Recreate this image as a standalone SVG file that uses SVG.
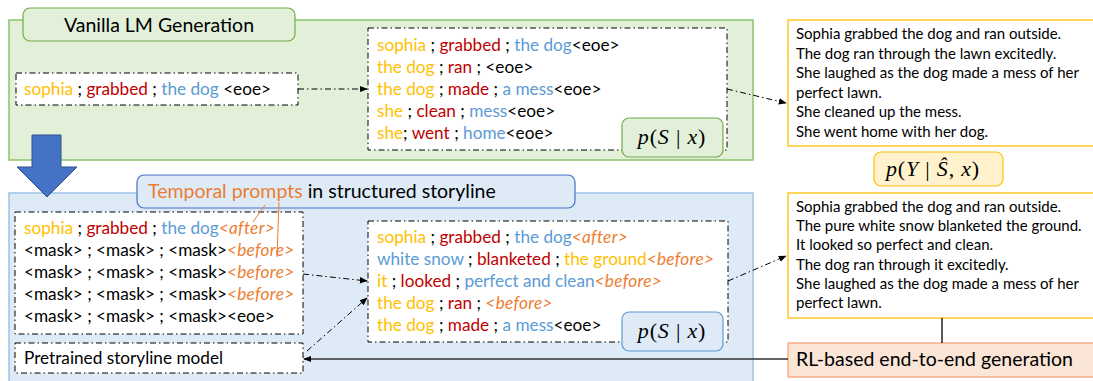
<svg xmlns="http://www.w3.org/2000/svg" width="1093" height="381" viewBox="0 0 1093 381">
<defs>
<style>
.t{font-family:Lato,"Liberation Sans",sans-serif;fill:#000}
.s16{font-size:17.2px}
.s14{font-size:15px}
.Y{fill:#FFC000}.R{fill:#C00000}.B{fill:#5B9BD5}.O{fill:#ED7D31}.I{font-style:italic;letter-spacing:0.3px}
.dd{fill:#fff;stroke:#000;stroke-width:1;stroke-dasharray:6 3 1.5 3}
.m{font-family:"Liberation Serif",serif;font-size:22px;fill:#000;letter-spacing:0.8px}
.con{fill:none;stroke:#000;stroke-width:1;stroke-dasharray:6 3 1.5 3}
</style>
<marker id="ah" viewBox="0 0 10 10" refX="9" refY="5" markerWidth="8" markerHeight="8" markerUnits="userSpaceOnUse" orient="auto">
<path d="M0,1 L10,5 L0,9 z" fill="#000"/>
</marker>
</defs>

<g id="vanilla-panel">
<rect x="9" y="20" width="744" height="140" fill="#E2F0D9" stroke="#8CC46C" stroke-width="1.5"/>
<rect x="23" y="8" width="272" height="33" rx="7" fill="#E2F0D9" stroke="#70AD47" stroke-width="1.2"/>
<text class="t" x="159" y="31.5" font-size="19.5" text-anchor="middle">Vanilla LM Generation</text>
</g>

<g id="structured-panel">
<rect x="9" y="193" width="744" height="200" fill="#DEEBF7" stroke="#9DC3E6" stroke-width="1.5"/>
<rect x="137" y="175" width="438" height="33" rx="7" fill="#DEEBF7" stroke="#4472C4" stroke-width="1.2"/>
<text class="t" x="148" y="198" font-size="19.5"><tspan class="O">Temporal prompts</tspan> in structured storyline</text>
</g>

<g id="input-vanilla">
<rect class="dd" x="16" y="73" width="282" height="32"/>
<text class="t s16" x="24" y="95"><tspan class="Y">sophia</tspan> ; <tspan class="R">grabbed</tspan> ; <tspan class="B">the dog</tspan> &lt;eoe&gt;</text>
</g>

<g id="storyline-vanilla">
<rect class="dd" x="368" y="28" width="359" height="122"/>
<text class="t s16" x="377" y="51"><tspan class="Y">sophia</tspan> ; <tspan class="R">grabbed</tspan> ; <tspan class="B">the dog</tspan>&lt;eoe&gt;</text>
<text class="t s16" x="377" y="73"><tspan class="Y">the dog</tspan> ; <tspan class="R">ran</tspan> ; &lt;eoe&gt;</text>
<text class="t s16" x="377" y="95"><tspan class="Y">the dog</tspan> ; <tspan class="R">made</tspan> ; <tspan class="B">a mess</tspan>&lt;eoe&gt;</text>
<text class="t s16" x="377" y="117"><tspan class="Y">she</tspan> ; <tspan class="R">clean</tspan> ; <tspan class="B">mess</tspan>&lt;eoe&gt;</text>
<text class="t s16" x="377" y="139"><tspan class="Y">she</tspan>; <tspan class="R">went</tspan> ; <tspan class="B">home</tspan>&lt;eoe&gt;</text>
</g>

<g id="ps-vanilla">
<rect x="622" y="118" width="101" height="39" rx="7" fill="#E2F0D9" stroke="#70AD47" stroke-width="1.2"/>
<text class="m" x="672" y="144" text-anchor="middle"><tspan font-style="italic">p</tspan>(<tspan font-style="italic">S</tspan> | <tspan font-style="italic">x</tspan>)</text>
</g>

<g id="story-vanilla">
<rect x="788" y="20" width="320" height="126" fill="#fff" stroke="#FFC000" stroke-width="1.3"/>
<text class="t s14" x="796" y="39">Sophia grabbed the dog and ran outside.</text>
<text class="t s14" x="796" y="58.5">The dog ran through the lawn excitedly.</text>
<text class="t s14" x="796" y="78">She laughed as the dog made a mess of her</text>
<text class="t s14" x="796" y="97.5">perfect lawn.</text>
<text class="t s14" x="796" y="117">She cleaned up the mess.</text>
<text class="t s14" x="796" y="136.5">She went home with her dog.</text>
</g>

<g id="py">
<rect x="874" y="152" width="129" height="34" rx="7" fill="#FFF2CC" stroke="#FFC000" stroke-width="1.2"/>
<text class="m" x="933" y="176" text-anchor="middle" letter-spacing="0.4"><tspan font-style="italic">p</tspan>(<tspan font-style="italic">Y</tspan> | <tspan font-style="italic">Ŝ</tspan>, <tspan font-style="italic">x</tspan>)</text>
</g>

<g id="input-structured">
<rect class="dd" x="15" y="212" width="288" height="122"/>
<text class="t s16" x="24" y="234"><tspan class="Y">sophia</tspan> ; <tspan class="R">grabbed</tspan> ; <tspan class="B">the dog</tspan><tspan class="O I">&lt;after&gt;</tspan></text>
<text class="t s16" x="24" y="256">&lt;mask&gt; ; &lt;mask&gt; ; &lt;mask&gt;<tspan class="O I">&lt;before&gt;</tspan></text>
<text class="t s16" x="24" y="278">&lt;mask&gt; ; &lt;mask&gt; ; &lt;mask&gt;<tspan class="O I">&lt;before&gt;</tspan></text>
<text class="t s16" x="24" y="300">&lt;mask&gt; ; &lt;mask&gt; ; &lt;mask&gt;<tspan class="O I">&lt;before&gt;</tspan></text>
<text class="t s16" x="24" y="322">&lt;mask&gt; ; &lt;mask&gt; ; &lt;mask&gt;&lt;eoe&gt;</text>
</g>

<g id="pretrained">
<rect class="dd" x="15" y="343" width="288" height="30"/>
<text class="t s16" x="24" y="364">Pretrained storyline model</text>
</g>

<g id="storyline-structured">
<rect class="dd" x="368" y="221" width="360" height="121"/>
<text class="t s16" x="377" y="243"><tspan class="Y">sophia</tspan> ; <tspan class="R">grabbed</tspan> ; <tspan class="B">the dog</tspan><tspan class="O I">&lt;after&gt;</tspan></text>
<text class="t s16" x="377" y="265"><tspan class="B">white snow</tspan> ; <tspan class="R">blanketed</tspan> ; <tspan class="Y">the ground</tspan><tspan class="O I">&lt;before&gt;</tspan></text>
<text class="t s16" x="377" y="287"><tspan class="Y">it</tspan> ; <tspan class="R">looked</tspan> ; <tspan class="B">perfect and clean</tspan><tspan class="O I">&lt;before&gt;</tspan></text>
<text class="t s16" x="377" y="309"><tspan class="Y">the dog</tspan> ; <tspan class="R">ran</tspan> ; <tspan class="O I">&lt;before&gt;</tspan></text>
<text class="t s16" x="377" y="331"><tspan class="Y">the dog</tspan> ; <tspan class="R">made</tspan> ; <tspan class="B">a mess</tspan>&lt;eoe&gt;</text>
</g>

<g id="ps-structured">
<rect x="622" y="312" width="101" height="39" rx="7" fill="#DEEBF7" stroke="#5B9BD5" stroke-width="1.2"/>
<text class="m" x="672" y="338" text-anchor="middle"><tspan font-style="italic">p</tspan>(<tspan font-style="italic">S</tspan> | <tspan font-style="italic">x</tspan>)</text>
</g>

<g id="story-structured">
<rect x="788" y="193" width="320" height="125" fill="#fff" stroke="#FFC000" stroke-width="1.3"/>
<text class="t s14" x="796" y="212">Sophia grabbed the dog and ran outside.</text>
<text class="t s14" x="796" y="231">The pure white snow blanketed the ground.</text>
<text class="t s14" x="796" y="250">It looked so perfect and clean.</text>
<text class="t s14" x="796" y="269.5">The dog ran through it excitedly.</text>
<text class="t s14" x="796" y="288.5">She laughed as the dog made a mess of her</text>
<text class="t s14" x="796" y="308">perfect lawn.</text>
</g>

<g id="rl">
<rect x="788" y="343" width="320" height="34" fill="#FBE5D6" stroke="#F4A47C" stroke-width="1.3"/>
<text class="t" x="796" y="366" font-size="19.5">RL-based end-to-end generation</text>
</g>

<g id="transition-arrow">
<polygon points="32,135 61,135 61,167 77,167 47,197 17,167 32,167" fill="#4472C4" stroke="#2F528F" stroke-width="1"/>
</g>

<g id="connectors">
<line class="con" x1="298" y1="89" x2="367" y2="89" marker-end="url(#ah)"/>
<line class="con" x1="727" y1="89" x2="786" y2="103" marker-end="url(#ah)"/>
<line class="con" x1="303" y1="274" x2="367" y2="281" marker-end="url(#ah)"/>
<line class="con" x1="307" y1="351" x2="367" y2="298" marker-end="url(#ah)"/>
<line class="con" x1="728" y1="281" x2="786" y2="256" marker-end="url(#ah)"/>
<line x1="265" y1="205" x2="253" y2="222" stroke="#ED7D31" stroke-width="1"/>
<line x1="279" y1="202" x2="277" y2="257" stroke="#ED7D31" stroke-width="1"/>
<line x1="942" y1="318" x2="942" y2="343" stroke="#000" stroke-width="1.3"/>
<line x1="788" y1="359" x2="304" y2="359" stroke="#333" stroke-width="1.3" marker-end="url(#ah)"/>
</g>
</svg>
